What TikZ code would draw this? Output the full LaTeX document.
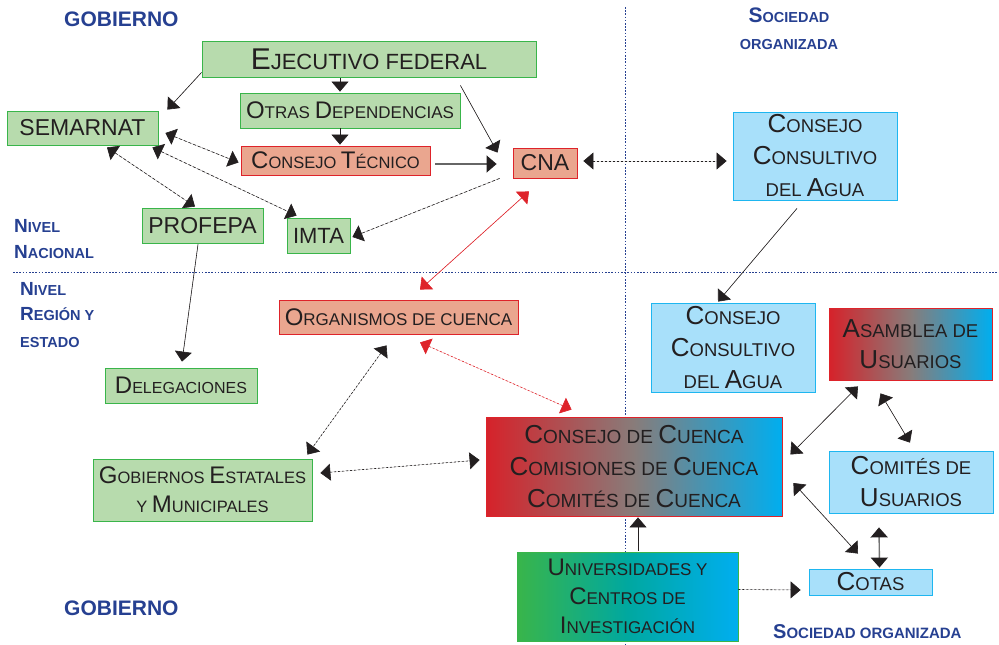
\documentclass[tikz,border=0pt]{standalone}
\usepackage{fontspec}
\setmainfont{Liberation Sans}
\usetikzlibrary{arrows.meta,calc}
\definecolor{gfill}{RGB}{183,219,173}
\definecolor{gline}{RGB}{57,181,74}
\definecolor{rfill}{RGB}{234,166,143}
\definecolor{rline}{RGB}{222,35,42}
\definecolor{bfill}{RGB}{168,224,250}
\definecolor{bline}{RGB}{30,182,240}
\definecolor{lab}{RGB}{38,64,145}
\definecolor{txt}{RGB}{35,31,32}
\definecolor{gred}{RGB}{214,34,42}
\definecolor{gblue}{RGB}{0,174,239}
\definecolor{gmid}{RGB}{136,124,122}
\definecolor{ggreen}{RGB}{57,181,74}
\definecolor{gteal}{RGB}{0,168,160}
\definecolor{redarr}{RGB}{222,35,42}
\newcommand\SC[2]{{\fontsize{#1}{#1}\selectfont #2}}
\tikzset{
  box/.style={inner sep=0pt, align=center, text=txt, line width=0.8pt},
  gbox/.style={box, fill=gfill, draw=gline},
  rbox/.style={box, fill=rfill, draw=rline},
  bbox/.style={box, fill=bfill, draw=bline},
  rbgrad/.style={box, draw=rline, left color=gred, right color=gblue, middle color=gmid},
  gbgrad/.style={box, draw=gline, left color=ggreen, right color=gblue, middle color=gteal},
  lbl/.style={inner sep=0pt, anchor=base west, text=lab, font=\bfseries},
  sep/.style={draw=lab, line width=0.9pt, dash pattern=on 1.6pt off 1.6pt},
  tip/.tip={Triangle[length=10pt,width=17pt]},
  ktip/.tip={Triangle[length=10pt,width=17pt,color=txt]},
  arr/.style={-tip, line width=0.6pt, draw=txt, fill=txt},
  darr/.style={tip-tip, line width=0.6pt, draw=txt, fill=txt},
  rdarr/.style={tip-tip, line width=0.6pt, draw=redarr, fill=redarr},
  dsh/.style={dash pattern=on 3pt off 2pt},
  dot/.style={dash pattern=on 2pt off 2pt},
}
\begin{document}
\begin{tikzpicture}[x=1pt,y=-1pt]
\useasboundingbox (0,0) rectangle (999,645);
% separators
\coordinate (vt) at (625,7);
\coordinate (vb) at (625,645);
\coordinate (hl) at (13,272);
\coordinate (hr) at (999,272);
\draw[sep] (vt) -- (vb);
\draw[sep] (hl) -- (hr);
% labels
\node[lbl, font=\bfseries\fontsize{21}{21}\selectfont] (g1) at (64,27) {GOBIERNO};
\node[lbl, anchor=base, font=\bfseries\fontsize{14.5}{14.5}\selectfont] (s1) at (789,23) {\SC{21}{S}OCIEDAD};
\node[lbl, anchor=base, font=\bfseries\fontsize{14.5}{14.5}\selectfont] (s2) at (789,49) {ORGANIZADA};
\node[lbl, font=\bfseries\fontsize{14.5}{14.5}\selectfont] (n1) at (14,232) {\SC{19}{N}IVEL};
\node[lbl, font=\bfseries\fontsize{14.5}{14.5}\selectfont] (n2) at (14,258) {\SC{19}{N}ACIONAL};
\node[lbl, font=\bfseries\fontsize{14.5}{14.5}\selectfont] (r1) at (20,295) {\SC{19}{N}IVEL};
\node[lbl, font=\bfseries\fontsize{14.5}{14.5}\selectfont] (r2) at (20,320) {\SC{19}{R}EGIÓN Y};
\node[lbl, font=\bfseries\fontsize{14.5}{14.5}\selectfont] (r3) at (20,347) {ESTADO};
\node[lbl, font=\bfseries\fontsize{21}{21}\selectfont] (g2) at (64,615) {GOBIERNO};
\node[lbl, font=\bfseries\fontsize{15}{15}\selectfont] (s3) at (773,638) {\SC{20}{S}OCIEDAD ORGANIZADA};
% boxes
\node[gbox, minimum width=334, minimum height=36, font=\fontsize{22}{22}\selectfont] (ejec) at (369,59) {\SC{30}{E}JECUTIVO FEDERAL};
\node[gbox, minimum width=220, minimum height=35, font=\fontsize{17}{17}\selectfont] (otras) at (350,110.5) {\SC{24}{O}TRAS \SC{24}{D}EPENDENCIAS};
\node[gbox, minimum width=151, minimum height=34, font=\fontsize{23}{23}\selectfont] (sem) at (82.5,128) {SEMARNAT};
\node[rbox, minimum width=189, minimum height=29, font=\fontsize{16.5}{16.5}\selectfont] (ctec) at (335.5,160.5) {\SC{24}{C}ONSEJO \SC{24}{T}ÉCNICO};
\node[rbox, minimum width=64, minimum height=30, font=\fontsize{23}{23}\selectfont] (cna) at (545,163) {CNA};
\node[gbox, minimum width=121, minimum height=35, font=\fontsize{23}{23}\selectfont] (prof) at (202.5,225.5) {PROFEPA};
\node[gbox, minimum width=63, minimum height=35, font=\fontsize{22}{22}\selectfont] (imta) at (318.5,235.5) {IMTA};
\node[bbox, minimum width=164, minimum height=88, font=\fontsize{18.5}{32}\selectfont] (ccA) at (815,156) {\SC{26}{C}ONSEJO\\\SC{26}{C}ONSULTIVO\\DEL \SC{26}{A}GUA};
\node[rbox, minimum width=239, minimum height=34, font=\fontsize{17}{17}\selectfont] (org) at (398.5,317) {\SC{24}{O}RGANISMOS DE CUENCA};
\node[gbox, minimum width=152, minimum height=35, font=\fontsize{16}{16}\selectfont] (del) at (181,385.5) {\SC{24}{D}ELEGACIONES};
\node[gbox, minimum width=219, minimum height=62, font=\fontsize{16.5}{29}\selectfont] (gob) at (202.5,490) {\SC{24}{G}OBIERNOS \SC{24}{E}STATALES\\Y \SC{24}{M}UNICIPALES};
\node[bbox, minimum width=164, minimum height=89, font=\fontsize{18.5}{32}\selectfont] (ccB) at (733,347.5) {\SC{26}{C}ONSEJO\\\SC{26}{C}ONSULTIVO\\DEL \SC{26}{A}GUA};
\node[rbgrad, minimum width=163, minimum height=72, font=\fontsize{18.5}{31}\selectfont] (asam) at (910.5,344) {\SC{26}{A}SAMBLEA DE\\\SC{26}{U}SUARIOS};
\node[rbgrad, minimum width=296, minimum height=99, font=\fontsize{19}{32}\selectfont] (ccu) at (634,466.5) {\SC{26}{C}ONSEJO DE \SC{26}{C}UENCA\\\SC{26}{C}OMISIONES DE \SC{26}{C}UENCA\\\SC{26}{C}OMITÉS DE \SC{26}{C}UENCA};
\node[bbox, minimum width=164, minimum height=62, font=\fontsize{18.5}{32}\selectfont] (comu) at (911,482) {\SC{26}{C}OMITÉS DE\\\SC{26}{U}SUARIOS};
\node[bbox, minimum width=123, minimum height=26, font=\fontsize{18.5}{18.5}\selectfont] (cotas) at (870.5,582) {\SC{26}{C}OTAS};
\node[gbgrad, minimum width=221, minimum height=89, font=\fontsize{17}{29}\selectfont] (univ) at (627.5,596.5) {\SC{24}{U}NIVERSIDADES Y\\\SC{24}{C}ENTROS DE\\\SC{24}{I}NVESTIGACIÓN};
% connectors
\draw[arr] ($(ejec.south west)+(0,-5)$) -- ($(sem.north east)+(9,-1)$);
\draw[arr] ($(ejec.south)+(-29,1)$) -- ($(otras.north)+(-10,-1)$);
\draw[arr] ($(ejec.south east)+(-76,8)$) -- ($(cna.north west)+(-15,5)$);
\draw[arr] ($(otras.south)+(-10,0)$) -- ($(ctec.north)+(4.5,-1)$);
\draw[darr,dsh] ($(sem.east)+(7,5)$) -- ($(ctec.west)+(-2,2)$);
\draw[darr,dsh] ($(sem.south east)+(-6,2)$) -- ($(imta.north west)+(10,-2)$);
\draw[darr,dsh] ($(sem.south)+(24.5,2)$) -- ($(prof.north)+(-7.5,-1)$);
\draw[-ktip, draw=black!60, line width=1.2pt] ($(ctec.east)+(5,3.5)$) -- ($(cna.west)+(-16,1)$);
\draw[arr,dsh] ($(cna.south west)+(-13,0)$) -- ($(imta.east)+(2,1.5)$);
\draw[darr,dot] ($(cna.east)+(6,-2)$) -- ($(ccA.west)+(-6,5)$);
\draw[rdarr] ($(cna.south)+(-16,13)$) -- ($(org.north)+(21.5,-10)$);
\draw[arr] ($(prof.south)+(-4.5,1)$) -- ($(del.north)+(1,-6)$);
\draw[arr] ($(ccA.south)+(-18,8)$) -- ($(ccB.north)+(-15,-1)$);
\draw[darr,dot] ($(org.south)+(-12,11)$) -- ($(gob.north east)+(-5,-4)$);
\draw[rdarr,dot] ($(org.south)+(21.5,8)$) -- ($(ccu.north west)+(86,-7)$);
\draw[darr,dot] ($(gob.east)+(8,-17)$) -- ($(ccu.west)+(-6,-6.5)$);
\draw[arr] ($(univ.north)+(10.5,-1)$) -- ($(ccu.south)+(4,1)$);
\draw[arr,dot] ($(univ.east)+(0,-7)$) -- ($(cotas.west)+(-8,8)$);
\draw[darr] ($(ccu.east)+(8,-12)$) -- ($(asam.south)+(-52.5,6)$);
\draw[darr] ($(asam.south)+(-30,13)$) -- ($(comu.north)+(-1,-8)$);
\draw[darr] ($(ccu.east)+(11,16.5)$) -- ($(cotas.north)+(-12.5,-15)$);
\draw[ktip-ktip, draw=black!55, line width=1.4pt] ($(comu.south)+(-32,14)$) -- ($(cotas.north)+(9,-1)$);
\end{tikzpicture}
\end{document}
